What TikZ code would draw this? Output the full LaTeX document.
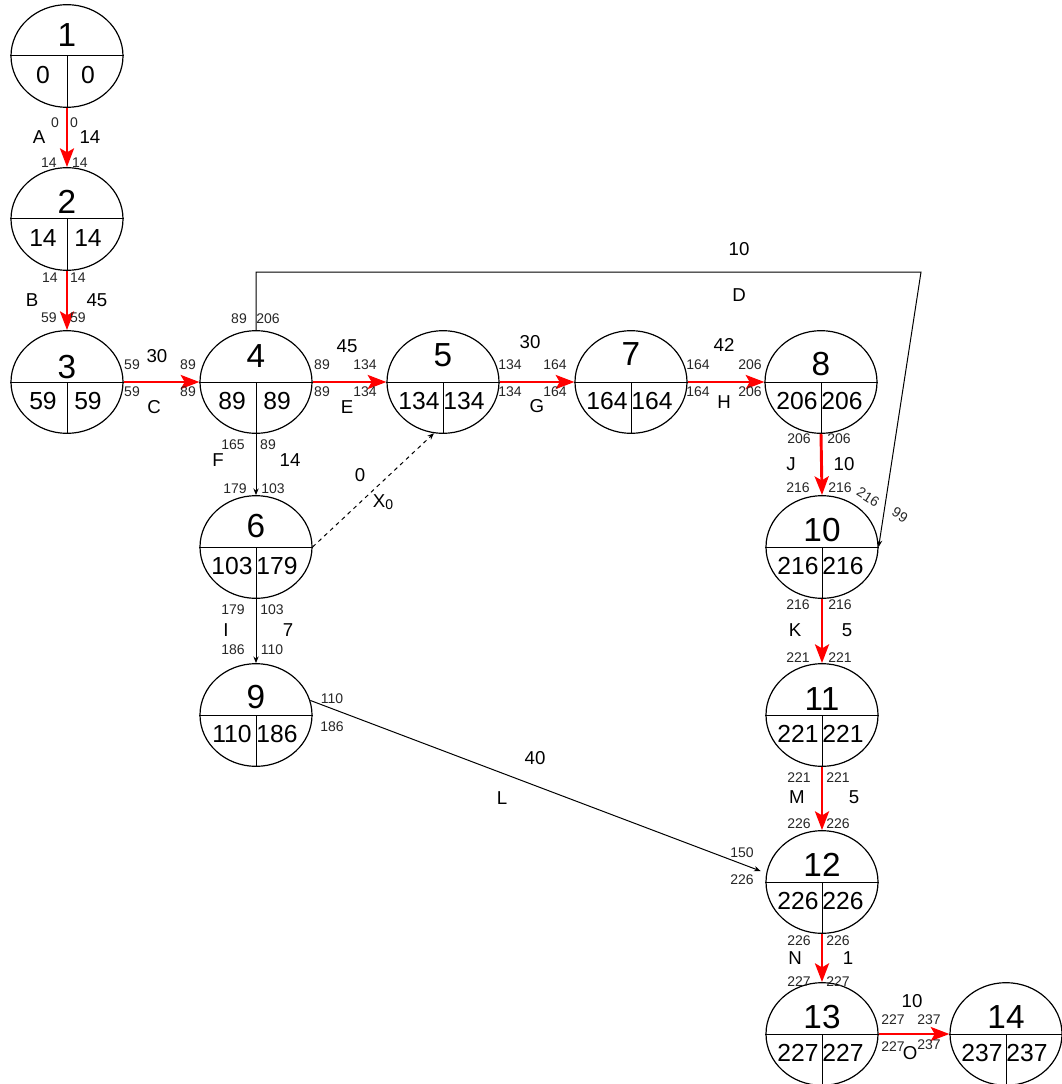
\documentclass[tikz,border=0pt]{standalone}
\usepackage{fontspec}
\setmainfont{Liberation Sans}
\usetikzlibrary{shapes.geometric,arrows.meta,calc}
\newcommand\EvNode[7]{%
  \node[evt] (#1) at (#2,#3) {};
  \draw[divl] (#1.west) -- (#1.east);
  \draw[divl] (#1.center) -- (#1.south);
  \node[numf] (#1num) at (#2,#4) {#5};
  \node[botf] (#1es) at ($(#1.center)+(-24,19)$) {#6};
  \node[botf] (#1ls) at ($(#1.center)+(21,19)$) {#7};
}
\begin{document}
\begin{tikzpicture}[x=0.75pt,y=-0.75pt,
  evt/.style={draw, ellipse, minimum width=84pt, minimum height=77pt, inner sep=0pt, line width=0.9pt},
  divl/.style={line width=0.75pt},
  numf/.style={font=\fontsize{25}{27}\selectfont, inner sep=0pt},
  botf/.style={font=\fontsize{18.5}{20}\selectfont, inner sep=0pt},
  sm/.style={font=\fontsize{10.5}{12}\selectfont, inner sep=0pt, text=black!85},
  md/.style={font=\fontsize{14}{16}\selectfont, inner sep=0pt},
  crit/.style={draw=red, line width=2.2pt, -{Stealth[length=14pt,width=10.5pt,inset=3pt]}},
  act/.style={draw=black, line width=0.75pt, -{Stealth[length=5pt,width=4pt]}},
]
\useasboundingbox (0,0) rectangle (1061,1084);

% events
\EvNode{n1}{67}{56}{35}{1}{0}{0}
\EvNode{n2}{67}{219}{202}{2}{14}{14}
\EvNode{n3}{67}{382}{367}{3}{59}{59}
\EvNode{n4}{256}{382}{356}{4}{89}{89}
\EvNode{n5}{443}{382}{355}{5}{134}{134}
\EvNode{n7}{631}{382}{354}{7}{164}{164}
\EvNode{n8}{821}{382}{364}{8}{206}{206}
\EvNode{n6}{256}{547}{526}{6}{103}{179}
\EvNode{n10}{822}{547}{530}{10}{216}{216}
\EvNode{n9}{256}{715}{697}{9}{110}{186}
\EvNode{n11}{822}{715}{699}{11}{221}{221}
\EvNode{n12}{822}{882}{865}{12}{226}{226}
\EvNode{n13}{822}{1034}{1017}{13}{227}{227}
\EvNode{n14}{1006}{1034}{1017}{14}{237}{237}

% critical activities
\draw[crit] (n1.south) -- (n2.north);
\draw[crit] (n2.south) -- (n3.north);
\draw[crit] (n3.east) -- (n4.west);
\draw[crit] (n4.east) -- (n5.west);
\draw[crit] (n5.east) -- (n7.west);
\draw[crit] (n7.east) -- (n8.west);
\draw[crit] (n8.south) -- (n10.north);
\draw[crit] (n10.south) -- (n11.north);
\draw[crit] (n11.south) -- (n12.north);
\draw[crit] (n12.south) -- (n13.north);
\draw[crit] (n13.east) -- (n14.west);

% other activities
\coordinate (dturn) at (921,272);
\draw[act] (n4.north) |- (dturn) -- (n10.east);
\draw[act] (n4.south) -- (n6.north);
\draw[act] (n6.south) -- (n9.north);
\draw[act, dashed] (n6.east) -- (n5.-100);
\draw[act, shorten >=4.5pt] (n9.15) -- (n12.171);

% A
\node[sm] (a1) at (55,123) {0};  \node[sm] (a2) at (74,123) {0};
\node[sm] (a3) at (49,163) {14}; \node[sm] (a4) at (80,163) {14};
\node[md] (a5) at (39,137) {A};  \node[md] (a6) at (90,137) {14};
% B
\node[sm] (b1) at (50,278) {14}; \node[sm] (b2) at (78,278) {14};
\node[sm] (b3) at (49,318) {59}; \node[sm] (b4) at (78,318) {59};
\node[md] (b5) at (32,300) {B};  \node[md] (b6) at (97,300) {45};
% C
\node[sm] (c1) at (132,365) {59}; \node[sm] (c2) at (132,392) {59};
\node[sm] (c3) at (188,365) {89}; \node[sm] (c4) at (188,392) {89};
\node[md] (c5) at (157,356) {30}; \node[md] (c6) at (154,407) {C};
% D
\node[sm] (d1) at (239,319) {89}; \node[sm] (d2) at (268,319) {206};
\node[md] (d3) at (739,249) {10}; \node[md] (d4) at (739,295) {D};
\node[sm, rotate=-32] (d5) at (868,497) {216};
\node[sm, rotate=-32] (d6) at (900,515) {99};
% E
\node[sm] (e1) at (322,365) {89}; \node[sm] (e2) at (365,365) {134};
\node[sm] (e3) at (322,392) {89}; \node[sm] (e4) at (365,392) {134};
\node[md] (e5) at (347,346) {45}; \node[md] (e6) at (347,407) {E};
% G
\node[sm] (g1) at (510,365) {134}; \node[sm] (g2) at (555,365) {164};
\node[sm] (g3) at (510,392) {134}; \node[sm] (g4) at (555,392) {164};
\node[md] (g5) at (530,342) {30};  \node[md] (g6) at (537,406) {G};
% H
\node[sm] (h1) at (698,365) {164}; \node[sm] (h2) at (750,365) {206};
\node[sm] (h3) at (698,392) {164}; \node[sm] (h4) at (750,392) {206};
\node[md] (h5) at (724,345) {42};  \node[md] (h6) at (724,402) {H};
% J
\node[sm] (j1) at (799,439) {206}; \node[sm] (j2) at (839,439) {206};
\node[sm] (j3) at (798,488) {216}; \node[sm] (j4) at (840,488) {216};
\node[md] (j5) at (791,464) {J};   \node[md] (j6) at (844,464) {10};
% K
\node[sm] (k1) at (798,605) {216}; \node[sm] (k2) at (840,605) {216};
\node[sm] (k3) at (798,658) {221}; \node[sm] (k4) at (840,658) {221};
\node[md] (k5) at (795,630) {K};   \node[md] (k6) at (847,630) {5};
% M
\node[sm] (m1) at (799,778) {221}; \node[sm] (m2) at (838,778) {221};
\node[sm] (m3) at (799,824) {226}; \node[sm] (m4) at (838,824) {226};
\node[md] (m5) at (797,797) {M};   \node[md] (m6) at (854,797) {5};
% N
\node[sm] (nn1) at (799,941) {226}; \node[sm] (nn2) at (838,941) {226};
\node[sm] (nn3) at (799,982) {227}; \node[sm] (nn4) at (838,982) {227};
\node[md] (nn5) at (795,958) {N};   \node[md] (nn6) at (848,958) {1};
% O
\node[sm] (o1) at (893,1020) {227}; \node[sm] (o2) at (929,1020) {237};
\node[sm] (o3) at (893,1047) {227}; \node[sm] (o4) at (929,1045) {237};
\node[md] (o5) at (912,1001) {10};  \node[md] (o6) at (910,1053) {O};
% F
\node[sm] (f1) at (233,445) {165}; \node[sm] (f2) at (268,445) {89};
\node[sm] (f3) at (235,489) {179}; \node[sm] (f4) at (273,489) {103};
\node[md] (f5) at (218,460) {F};   \node[md] (f6) at (290,460) {14};
% X
\node[md] (x1) at (360,475) {0};
\node[md] (x2) at (383,502) {X\raisebox{-0.25ex}{\fontsize{10.5}{12}\selectfont 0}};
% I
\node[sm] (i1) at (233,610) {179}; \node[sm] (i2) at (272,610) {103};
\node[sm] (i3) at (233,650) {186}; \node[sm] (i4) at (272,650) {110};
\node[md] (i5) at (226,630) {I};   \node[md] (i6) at (288,630) {7};
% L
\node[sm] (l1) at (332,699) {110}; \node[sm] (l2) at (332,727) {186};
\node[sm] (l3) at (742,853) {150}; \node[sm] (l4) at (742,880) {226};
\node[md] (l5) at (535,758) {40};  \node[md] (l6) at (502,798) {L};
\end{tikzpicture}
\end{document}
